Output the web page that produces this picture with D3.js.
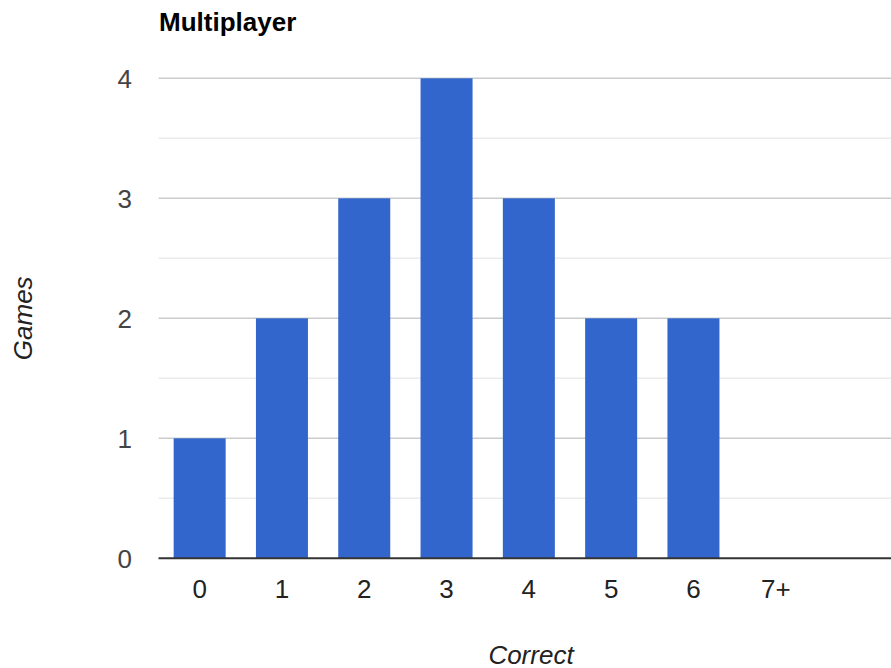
<!DOCTYPE html>
<html>
<head>
<meta charset="utf-8">
<script src="https://cdn.jsdelivr.net/npm/d3@7"></script>
<style>
  body { margin: 0; background: #fff; }
  text { font-family: "Liberation Sans", Arial, sans-serif; }
</style>
</head>
<body>
<script>
// chart data
const categories = ["0", "1", "2", "3", "4", "5", "6", "7+"];
const games = [1, 2, 3, 4, 3, 2, 2, 0];
const yTicks = [0, 1, 2, 3, 4];
const minorTicks = [0.5, 1.5, 2.5, 3.5];

const W = 891, H = 668;
const plotL = 158.5, plotR = 891, plotT = 78.3, plotB = 558.3;
const step = 82.3;

const svg = d3.select("body")
  .append("svg")
  .attr("width", W)
  .attr("height", H);

const xScale = d3.scaleBand()
  .domain(categories)
  .range([plotL, plotL + step * categories.length])
  .paddingInner(0.368)
  .paddingOuter(0.184);

const yScale = d3.scaleLinear()
  .domain([0, 4])
  .range([plotB, plotT]);

// minor gridlines
svg.append("g").selectAll("line")
  .data(minorTicks)
  .join("line")
  .attr("x1", plotL).attr("x2", plotR)
  .attr("y1", d => yScale(d))
  .attr("y2", d => yScale(d))
  .attr("stroke", "#ebebeb")
  .attr("stroke-width", 1.5);

// major gridlines
svg.append("g").selectAll("line")
  .data(yTicks.filter(d => d > 0))
  .join("line")
  .attr("x1", plotL).attr("x2", plotR)
  .attr("y1", d => yScale(d))
  .attr("y2", d => yScale(d))
  .attr("stroke", "#cccccc")
  .attr("stroke-width", 1.5);

// bars
svg.append("g").selectAll("rect")
  .data(games)
  .join("rect")
  .attr("x", (d, i) => xScale(categories[i]))
  .attr("width", xScale.bandwidth())
  .attr("y", d => yScale(d))
  .attr("height", d => yScale(0) - yScale(d))
  .attr("fill", "#3366cc");

// baseline
svg.append("line")
  .attr("x1", plotL).attr("x2", plotR)
  .attr("y1", yScale(0)).attr("y2", yScale(0))
  .attr("stroke", "#333333")
  .attr("stroke-width", 2);

// y tick labels
svg.append("g").selectAll("text")
  .data(yTicks)
  .join("text")
  .attr("x", 132)
  .attr("y", d => yScale(d))
  .attr("dy", "0.36em")
  .attr("text-anchor", "end")
  .attr("font-size", 26)
  .attr("fill", "#444444")
  .text(d => d);

// x tick labels
svg.append("g").selectAll("text")
  .data(categories)
  .join("text")
  .attr("x", d => xScale(d) + xScale.bandwidth() / 2)
  .attr("y", 598)
  .attr("text-anchor", "middle")
  .attr("font-size", 26)
  .attr("fill", "#222222")
  .text(d => d);

// title
svg.append("text")
  .attr("x", 159)
  .attr("y", 31)
  .attr("font-size", 26)
  .attr("font-weight", "bold")
  .attr("fill", "#000")
  .text("Multiplayer");

// axis titles
svg.append("text")
  .attr("transform", "translate(32," + ((plotT + plotB) / 2) + ") rotate(-90)")
  .attr("text-anchor", "middle")
  .attr("font-size", 26)
  .attr("font-style", "italic")
  .attr("fill", "#222222")
  .text("Games");

svg.append("text")
  .attr("x", 531)
  .attr("y", 664)
  .attr("text-anchor", "middle")
  .attr("font-size", 26)
  .attr("font-style", "italic")
  .attr("fill", "#222222")
  .text("Correct");
</script>
</body>
</html>
